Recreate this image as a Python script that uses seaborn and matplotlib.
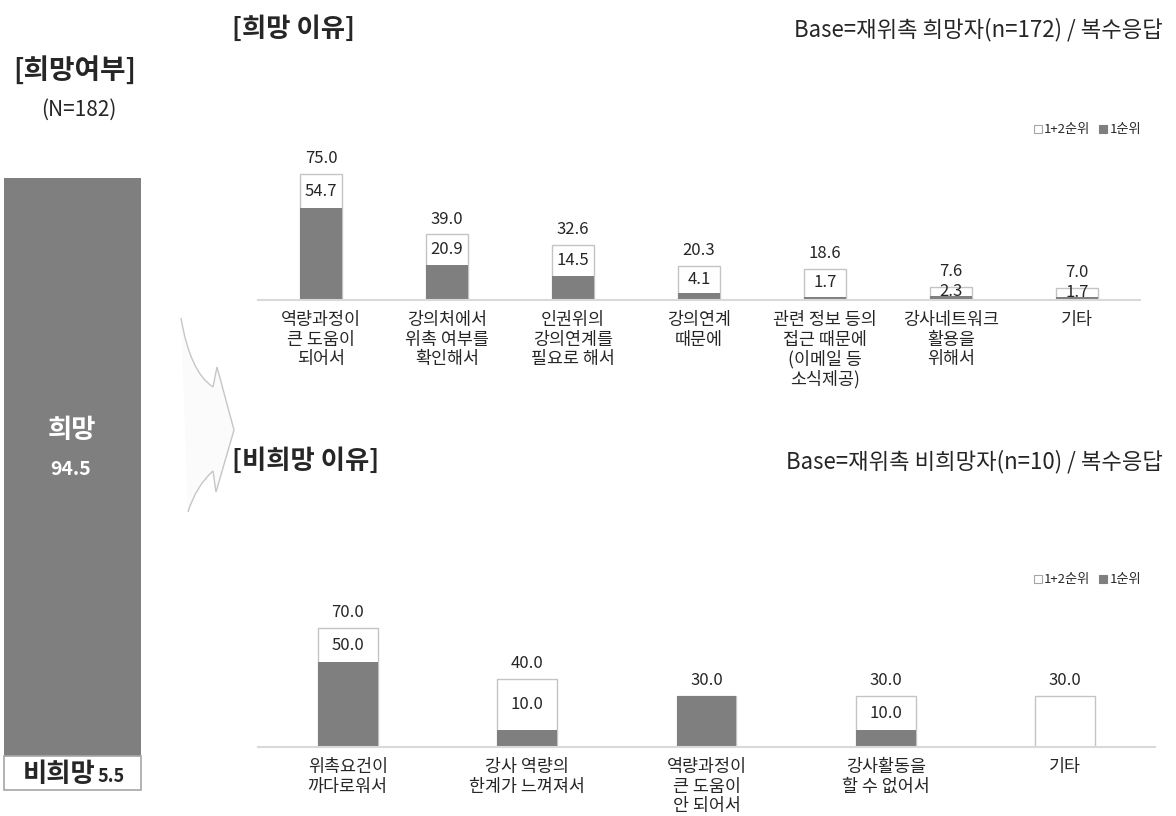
import numpy as np
import pandas as pd
import matplotlib
matplotlib.use("Agg")
import matplotlib.pyplot as plt
import seaborn as sns
from matplotlib.patches import Patch, PathPatch
from matplotlib.path import Path


# -------------------------------
# data
# -------------------------------

want_labels = ["희망", "비희망"]
want_share = [94.5, 5.5]
want_n = 182

yes_reasons = [
    "역량과정이\n큰 도움이\n되어서",
    "강의처에서\n위촉 여부를\n확인해서",
    "인권위의\n강의연계를\n필요로 해서",
    "강의연계\n때문에",
    "관련 정보 등의\n접근 때문에\n(이메일 등\n소식제공)",
    "강사네트워크\n활용을\n위해서",
    "기타",
]
yes_top12 = [75.0, 39.0, 32.6, 20.3, 18.6, 7.6, 7.0]
yes_top1 = [54.7, 20.9, 14.5, 4.1, 1.7, 2.3, 1.7]
yes_n = 172

no_reasons = [
    "위촉요건이\n까다로워서",
    "강사 역량의\n한계가 느껴져서",
    "역량과정이\n큰 도움이\n안 되어서",
    "강사활동을\n할 수 없어서",
    "기타",
]
no_top12 = [70.0, 40.0, 30.0, 30.0, 30.0]
no_top1 = [50.0, 10.0, 30.0, 10.0, 0.0]
no_n = 10

legend_names = ["1+2순위", "1순위"]


# -------------------------------
# style
# -------------------------------

sns.set_style("white")
plt.rcParams["font.family"] = ["Noto Sans CJK KR", "DejaVu Sans"]

DARK = "#7f7f7f"
EDGE = "#c4c4c4"
BASE = "#d9d9d9"

W, H = 1176, 816
fig = plt.figure(figsize=(W / 100, H / 100), dpi=100)


def px(x, y):
    return x / W, 1 - y / H


def box(x0, y0, x1, y1):
    return [x0 / W, 1 - y1 / H, (x1 - x0) / W, (y1 - y0) / H]


# -------------------------------
# decorative arrow
# -------------------------------

deco = fig.add_axes([0, 0, 1, 1], zorder=0)
deco.set_xlim(0, W)
deco.set_ylim(H, 0)
deco.axis("off")
verts = [(181, 318), (190, 372), (213, 387), (217, 367), (234, 430),
         (216, 492), (213, 471), (196, 486), (188, 512)]
codes = [Path.MOVETO, Path.CURVE3, Path.CURVE3, Path.LINETO, Path.LINETO,
         Path.LINETO, Path.LINETO, Path.CURVE3, Path.CURVE3]
deco.add_patch(PathPatch(Path(verts, codes), facecolor="#fbfbfb",
                         edgecolor="#c6c6c6", lw=1.0))


# -------------------------------
# left: 희망여부
# -------------------------------

ax0 = fig.add_axes(box(4, 178, 141, 790))
sns.barplot(x=["희망여부"], y=[sum(want_share)], color=DARK, width=1,
            saturation=1, linewidth=0, ax=ax0)
sns.barplot(x=["희망여부"], y=[want_share[1]], color="white", width=1,
            saturation=1, edgecolor="#a6a6a6", linewidth=1.2, ax=ax0)
for p in ax0.patches:
    p.set_clip_on(False)
ax0.set_xlim(-0.5, 0.5)
ax0.set_ylim(0, 100)
ax0.axis("off")

fig.text(*px(75, 70), "[희망여부]", ha="center", va="center",
         fontsize=20, fontweight="bold")
fig.text(*px(79, 110), f"(N={want_n})", ha="center", va="center", fontsize=15)
fig.text(*px(72, 430), want_labels[0], ha="center", va="center",
         fontsize=19, fontweight="bold", color="white")
fig.text(*px(71, 470), f"{want_share[0]:.1f}", ha="center", va="center",
         fontsize=14, fontweight="bold", color="white")
fig.text(*px(95, 775), want_labels[1], ha="right", va="center",
         fontsize=19, fontweight="bold")
fig.text(*px(98, 777), f"{want_share[1]:.1f}", ha="left", va="center",
         fontsize=13, fontweight="bold")


# -------------------------------
# reason charts
# -------------------------------

def draw_reasons(ax, cats, top12, top1, ymax):
    df = pd.DataFrame({"reason": cats, "top12": top12, "top1": top1})
    sns.barplot(data=df, x="reason", y="top12", order=cats, color="white",
                edgecolor=EDGE, linewidth=1, width=0.333, saturation=1,
                errorbar=None, ax=ax)
    sns.barplot(data=df, x="reason", y="top1", order=cats, color=DARK,
                linewidth=0, width=0.333, saturation=1, errorbar=None, ax=ax)
    for i, (t, d) in enumerate(zip(top12, top1)):
        ax.annotate(f"{t:.1f}", (i, t), xytext=(0, 5),
                    textcoords="offset points", ha="center", va="bottom",
                    fontsize=12)
        if 0 < d < t:
            ax.text(i, (t + d) / 2, f"{d:.1f}", ha="center", va="center",
                    fontsize=12)
    ax.set_xlim(-0.5, len(cats) - 0.5)
    ax.set_ylim(0, ymax)
    ax.set_xlabel("")
    ax.set_ylabel("")
    ax.set_yticks([])
    sns.despine(ax=ax, left=True)
    ax.spines["bottom"].set_color(BASE)
    ax.spines["bottom"].set_linewidth(1.5)
    ax.tick_params(axis="x", length=0, pad=8, labelsize=12.5)
    for lab in ax.get_xticklabels():
        lab.set_linespacing(1.1)


def add_legend(y):
    handles = [Patch(facecolor="white", edgecolor="#a6a6a6", lw=0.8),
               Patch(facecolor=DARK, edgecolor=DARK, lw=0.8)]
    fig.legend(handles, legend_names, loc="center right",
               bbox_to_anchor=px(1141, y), ncol=2, frameon=False,
               fontsize=9.5, handlelength=0.6, handleheight=0.6,
               handletextpad=0.15, columnspacing=0.7, borderpad=0,
               borderaxespad=0)


ax1 = fig.add_axes(box(258, 140, 1140, 300))
draw_reasons(ax1, yes_reasons, yes_top12, yes_top1, 160 / 1.68)
fig.text(*px(232, 29), "[희망 이유]", ha="left", va="center",
         fontsize=19, fontweight="bold")
fig.text(*px(1163, 30), f"Base=재위촉 희망자(n={yes_n}) / 복수응답",
         ha="right", va="center", fontsize=16)
add_legend(130)

ax2 = fig.add_axes(box(258, 590, 1155, 747))
draw_reasons(ax2, no_reasons, no_top12, no_top1, 157 / 1.7)
fig.text(*px(232, 461), "[비희망 이유]", ha="left", va="center",
         fontsize=19, fontweight="bold")
fig.text(*px(1163, 462), f"Base=재위촉 비희망자(n={no_n}) / 복수응답",
         ha="right", va="center", fontsize=16)
add_legend(580)

fig.savefig("out.png", dpi=100)
